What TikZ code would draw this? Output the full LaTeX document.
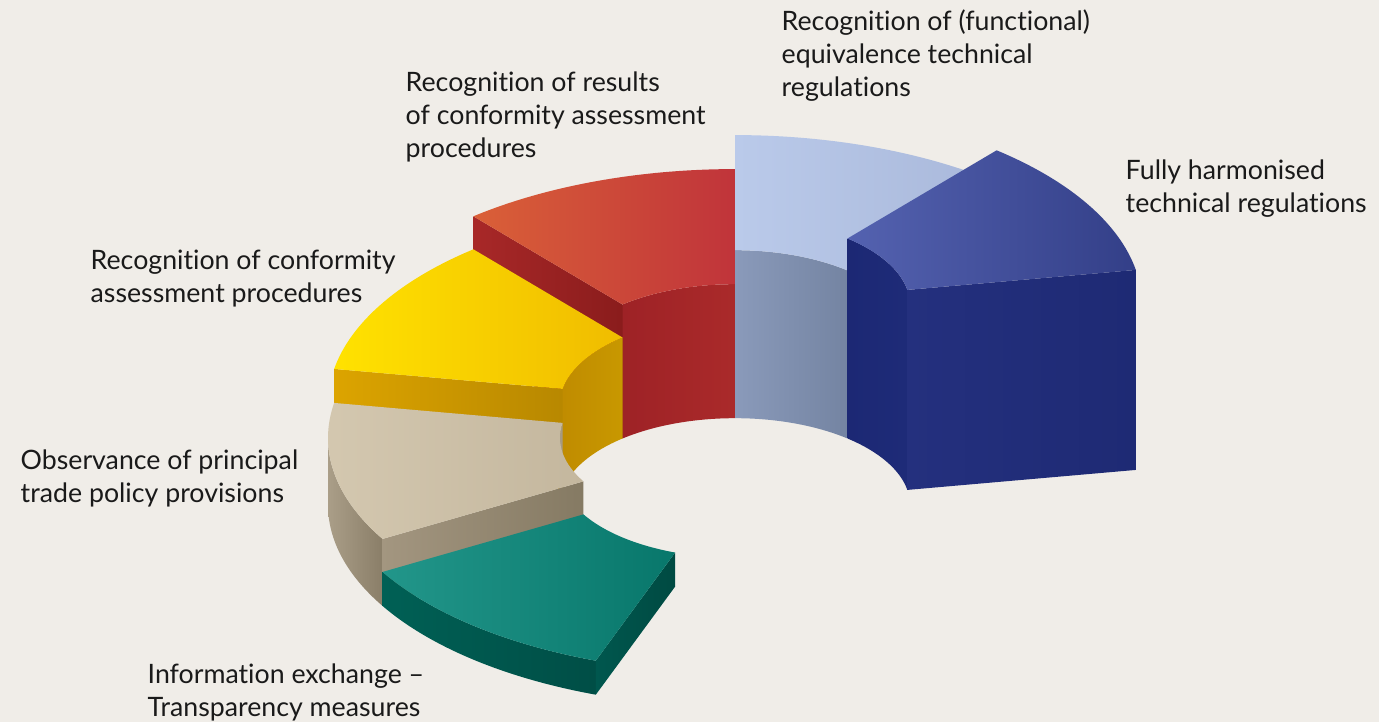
\documentclass[tikz,border=0pt]{standalone}
\usepackage{fontspec}
\usepackage{xcolor}
\usepackage{tikz}
\usetikzlibrary{positioning}
\newfontfamily\labelfont[Ligatures={NoCommon}]{Lato}

\definecolor{paper}{HTML}{F0EDE8}
\definecolor{ink}{HTML}{1A1A1A}
% segment colours
\definecolor{redtopL}{HTML}{DA6038}
\definecolor{redtopR}{HTML}{C0343A}
\definecolor{redsideL}{HTML}{A82828}
\definecolor{redsideR}{HTML}{8A1C1C}
\definecolor{redwallL}{HTML}{9E2226}
\definecolor{redwallR}{HTML}{AA2A2A}
\definecolor{skytopL}{HTML}{BACAEA}
\definecolor{skytopR}{HTML}{A9B8DA}
\definecolor{skywallL}{HTML}{8A9ABA}
\definecolor{skywallR}{HTML}{7484A2}
\definecolor{navytopL}{HTML}{5462B0}
\definecolor{navytopR}{HTML}{333F88}
\definecolor{navysideL}{HTML}{24307E}
\definecolor{navysideR}{HTML}{1E2A74}
\definecolor{navywallL}{HTML}{1C2874}
\definecolor{navywallR}{HTML}{1E2B78}
\definecolor{goldtopL}{HTML}{FFE200}
\definecolor{goldtopR}{HTML}{F0BC00}
\definecolor{goldsideL}{HTML}{DCA400}
\definecolor{goldsideR}{HTML}{B88800}
\definecolor{goldwallL}{HTML}{C08C00}
\definecolor{goldwallR}{HTML}{C89800}
\definecolor{tantopL}{HTML}{D4C8B0}
\definecolor{tantopR}{HTML}{C4B79E}
\definecolor{tanwallL}{HTML}{AA9E88}
\definecolor{tanwallR}{HTML}{8A7E68}
\definecolor{tansideL}{HTML}{A39680}
\definecolor{tansideR}{HTML}{857A63}
\definecolor{tealtopL}{HTML}{22968A}
\definecolor{tealtopR}{HTML}{08776B}
\definecolor{tealwallL}{HTML}{006055}
\definecolor{tealwallR}{HTML}{004E46}
\definecolor{tealsideL}{HTML}{00574E}
\definecolor{tealsideR}{HTML}{004A42}

% ring geometry: centre (735,217), outer radius 407, inner radius 175, tilt 0.496
\newcommand{\ringtop}[5]{% from, to, height, left colour, right colour
  \path[left color=#4, right color=#5]
    ({735+407*cos(#1)},{217+201.9*sin(#1)+#3})
    arc[start angle=#1, end angle=#2, x radius=407, y radius=201.9]
    -- ({735+175*cos(#2)},{217+86.8*sin(#2)+#3})
    arc[start angle=#2, end angle=#1, x radius=175, y radius=86.8]
    -- cycle;}
\newcommand{\ringwall}[6]{% from, to, radius, height, left colour, right colour
  \path[left color=#5, right color=#6]
    ({735+#3*cos(#1)},{217+0.496*#3*sin(#1)})
    arc[start angle=#1, end angle=#2, x radius=#3, y radius={0.496*#3}]
    -- ({735+#3*cos(#2)},{217+0.496*#3*sin(#2)+#4})
    arc[start angle=#2, end angle=#1, x radius=#3, y radius={0.496*#3}]
    -- cycle;}
\newcommand{\ringside}[4]{% angle, height, left colour, right colour
  \path[left color=#3, right color=#4]
    ({735+407*cos(#1)},{217+201.9*sin(#1)})
    -- ({735+175*cos(#1)},{217+86.8*sin(#1)})
    -- ({735+175*cos(#1)},{217+86.8*sin(#1)+#2})
    -- ({735+407*cos(#1)},{217+201.9*sin(#1)+#2}) -- cycle;}

\begin{document}
\begin{tikzpicture}[
    x=0.01cm, y=0.01cm,
    seglabel/.style={font=\labelfont\fontsize{7.6pt}{9.39pt}\selectfont, text=ink, align=left, anchor=base west, inner sep=0pt}
]

% Background
\fill[paper] (0,0) rectangle (1379,722);
\useasboundingbox (0,0) rectangle (1379,722);

% Red segment
\ringwall{90}{130}{175}{134}{redwallL}{redwallR}
\ringside{130}{134}{redsideL}{redsideR}
\ringtop{90}{130}{134}{redtopL}{redtopR}

% Light blue segment
\ringwall{50}{90}{175}{168}{skywallL}{skywallR}
\ringtop{50}{90}{168}{skytopL}{skytopR}

% Dark blue segment
\ringwall{10}{50}{175}{200}{navywallL}{navywallR}
\ringside{10}{200}{navysideL}{navysideR}
\ringtop{10}{50}{200}{navytopL}{navytopR}

% Yellow segment
\ringwall{130}{170}{175}{101}{goldwallL}{goldwallR}
\ringside{170}{101}{goldsideL}{goldsideR}
\ringtop{130}{170}{101}{goldtopL}{goldtopR}

% Tan segment
\ringwall{170}{180}{175}{67}{tansideL}{tanwallL}
\ringwall{180}{210}{407}{67}{tanwallL}{tanwallR}
\ringside{210}{67}{tansideL}{tansideR}
\ringtop{170}{210}{67}{tantopL}{tantopR}

% Teal segment
\ringwall{210}{250}{407}{34}{tealwallL}{tealwallR}
\ringside{250}{34}{tealsideL}{tealsideR}
\ringtop{210}{250}{34}{tealtopL}{tealtopR}

% Labels (anchored at the baseline of their last line)
\node[seglabel] (funclbl) at (781,625) {Recognition of (functional)\\equivalence technical\\regulations};
\node[seglabel] (harmlbl) at (1125,509) {Fully harmonised\\technical regulations};
\node[seglabel] (reslbl) at (405,564) {Recognition of results\\of conformity assessment\\procedures};
\node[seglabel] (conflbl) at (90,419) {Recognition of conformity\\assessment procedures};
\node[seglabel] (obslbl) at (20,219) {Observance of principal\\trade policy provisions};
\node[seglabel] (infolbl) at (147,5) {Information exchange –\\Transparency measures};

\end{tikzpicture}
\end{document}
